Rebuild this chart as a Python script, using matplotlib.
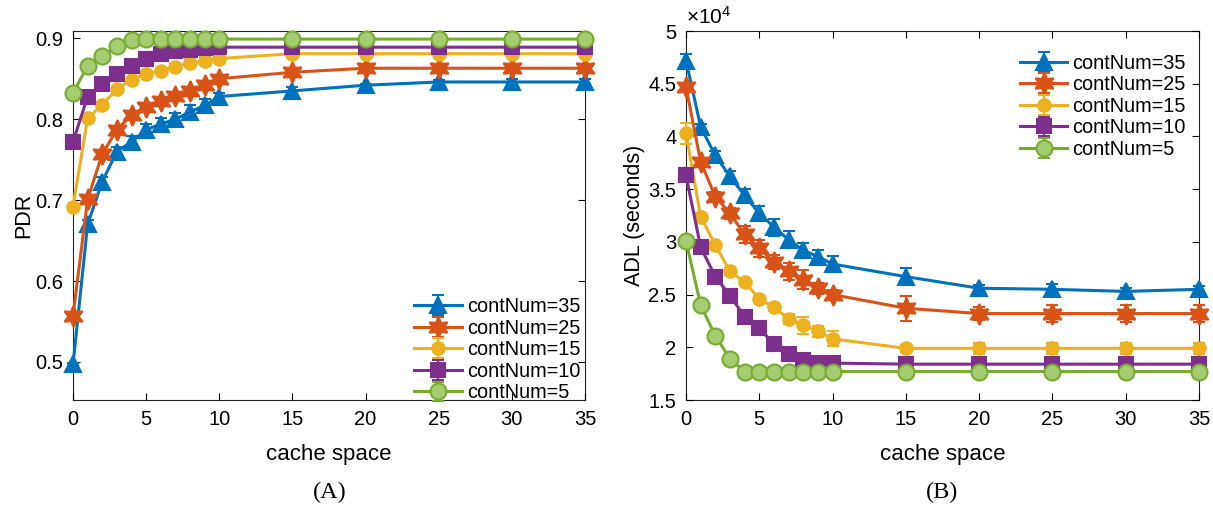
import numpy as np
import matplotlib.pyplot as plt
from matplotlib.ticker import FuncFormatter

plt.rcParams['font.family'] = ['Liberation Sans', 'DejaVu Sans']
plt.rcParams['mathtext.default'] = 'regular'

# cache space values
cache = [0, 1, 2, 3, 4, 5, 6, 7, 8, 9, 10, 15, 20, 25, 30, 35]
labels = ['contNum=35', 'contNum=25', 'contNum=15', 'contNum=10', 'contNum=5']

# (A) PDR
pdr_35 = [0.497, 0.670, 0.723, 0.760, 0.772, 0.787, 0.794, 0.800, 0.809, 0.817, 0.828, 0.835, 0.842, 0.846, 0.846, 0.846]
pdr_25 = [0.557, 0.701, 0.757, 0.787, 0.805, 0.815, 0.822, 0.829, 0.835, 0.842, 0.850, 0.858, 0.863, 0.863, 0.863, 0.863]
pdr_15 = [0.692, 0.801, 0.818, 0.837, 0.849, 0.856, 0.860, 0.865, 0.869, 0.872, 0.875, 0.881, 0.881, 0.881, 0.881, 0.881]
pdr_10 = [0.772, 0.828, 0.844, 0.856, 0.866, 0.875, 0.880, 0.884, 0.886, 0.888, 0.889, 0.889, 0.889, 0.889, 0.889, 0.889]
pdr_5 = [0.832, 0.866, 0.878, 0.890, 0.898, 0.899, 0.899, 0.899, 0.899, 0.899, 0.899, 0.899, 0.899, 0.899, 0.899, 0.899]
pdr_err_35 = [0.002, 0.006, 0.006, 0.006, 0.007, 0.007, 0.008, 0.008, 0.008, 0.008, 0.004, 0.005, 0.002, 0.002, 0.004, 0.004]
pdr_err_25 = [0.002, 0.004, 0.004, 0.005, 0.005, 0.005, 0.005, 0.005, 0.005, 0.005, 0.004, 0.005, 0.003, 0.003, 0.003, 0.003]
pdr_err_15 = [0.002, 0.002, 0.003, 0.003, 0.003, 0.003, 0.003, 0.004, 0.005, 0.005, 0.004, 0.004, 0.004, 0.004, 0.004, 0.004]
pdr_err_10 = [0.002] * 16
pdr_err_5 = [0.002] * 16

# (B) ADL in units of 1e4 seconds
adl_35 = [4.72, 4.09, 3.82, 3.62, 3.44, 3.27, 3.14, 3.02, 2.92, 2.86, 2.79, 2.67, 2.56, 2.55, 2.53, 2.55]
adl_25 = [4.47, 3.76, 3.43, 3.27, 3.07, 2.94, 2.81, 2.72, 2.64, 2.56, 2.50, 2.37, 2.32, 2.32, 2.32, 2.32]
adl_15 = [4.03, 3.24, 2.97, 2.72, 2.62, 2.46, 2.38, 2.27, 2.21, 2.15, 2.08, 1.99, 1.99, 1.99, 1.99, 1.99]
adl_10 = [3.63, 2.95, 2.67, 2.49, 2.29, 2.18, 2.03, 1.94, 1.88, 1.85, 1.85, 1.84, 1.84, 1.84, 1.84, 1.84]
adl_5 = [3.01, 2.40, 2.11, 1.89, 1.77, 1.77, 1.77, 1.77, 1.77, 1.77, 1.77, 1.77, 1.77, 1.77, 1.77, 1.77]
adl_err_35 = [0.06, 0.03, 0.04, 0.05, 0.06, 0.07, 0.08, 0.08, 0.07, 0.06, 0.08, 0.08, 0.03, 0.05, 0.03, 0.03]
adl_err_25 = [0.03, 0.04, 0.04, 0.05, 0.08, 0.08, 0.07, 0.08, 0.09, 0.05, 0.04, 0.12, 0.06, 0.08, 0.08, 0.08]
adl_err_15 = [0.10, 0.03, 0.03, 0.03, 0.03, 0.03, 0.03, 0.05, 0.08, 0.05, 0.07, 0.03, 0.05, 0.05, 0.05, 0.05]
adl_err_10 = [0.03] * 16
adl_err_5 = [0.02] * 16

colors = ['#0072BD', '#D95319', '#EDB120', '#7E2F8E', '#77AC30']
markers = ['^', (6, 1, 0), 'o', 's', 'o']
msizes = [11.5, 15, 9, 10, 11.5]
faces = ['#0072BD', '#D95319', '#EDB120', '#7E2F8E', '#a6cc72']

fig = plt.figure(figsize=(12.13, 5.08), dpi=100)
axA = fig.add_axes([73 / 1213, 1 - 400 / 508, (585 - 73) / 1213, 369 / 508])
axB = fig.add_axes([686 / 1213, 1 - 400 / 508, (1199 - 686) / 1213, 369 / 508])

pdr = [pdr_35, pdr_25, pdr_15, pdr_10, pdr_5]
pdr_err = [pdr_err_35, pdr_err_25, pdr_err_15, pdr_err_10, pdr_err_5]
adl = [adl_35, adl_25, adl_15, adl_10, adl_5]
adl_err = [adl_err_35, adl_err_25, adl_err_15, adl_err_10, adl_err_5]


def draw(ax, y, yerr, i):
    c = ax.errorbar(cache, y, yerr=yerr, color=colors[i], marker=markers[i],
                    ms=msizes[i], mfc=faces[i], mec=colors[i], mew=1.5, lw=2.2,
                    elinewidth=1.5, capsize=4, capthick=1.5, label=labels[i])
    for a in c.get_children():
        a.set_clip_on(False)


for i in range(5):
    draw(axA, pdr[i], pdr_err[i], i)
    draw(axB, np.array(adl[i]) * 1e4, np.array(adl_err[i]) * 1e4, i)

for ax in (axA, axB):
    ax.set_xlim(0, 35)
    ax.set_xticks(range(0, 36, 5))
    ax.tick_params(direction='in', top=True, right=True, labelsize=14.5,
                   length=5, width=0.8, pad=7)
    ax.set_xlabel('cache space', fontsize=16, labelpad=11)
    for s in ax.spines.values():
        s.set_linewidth(0.8)
        s.set_color('#262626')
        s.set_zorder(0.5)

axA.set_ylim(0.453, 0.909)
axA.set_yticks([0.5, 0.6, 0.7, 0.8, 0.9])
axA.set_ylabel('PDR', fontsize=15.5, labelpad=1)
axA.legend(loc='lower right', bbox_to_anchor=(0.995, -0.012), frameon=False,
           fontsize=14.3, handlelength=2.4, labelspacing=0.13,
           handletextpad=0.25, borderaxespad=0.0, borderpad=0.1)

axB.set_ylim(1.5e4, 5e4)
axB.set_yticks(np.arange(1.5e4, 5.01e4, 0.5e4))
axB.yaxis.set_major_formatter(FuncFormatter(lambda v, p: '%g' % (v / 1e4)))
axB.text(0.0, 1.01, r'$\times10^{4}$', transform=axB.transAxes, fontsize=15,
         ha='left', va='bottom')
axB.set_ylabel('ADL (seconds)', fontsize=15.5, labelpad=2)
axB.legend(loc='upper right', bbox_to_anchor=(0.978, 0.944), frameon=False,
           fontsize=14.3, handlelength=2.4, labelspacing=0.13,
           handletextpad=0.25, borderaxespad=0.0, borderpad=0.1)

fig.text(330 / 1213, 1 - 492 / 508, '(A)', ha='center', va='center', fontsize=17.5,
         family=['Liberation Serif', 'DejaVu Serif'])
fig.text(942 / 1213, 1 - 492 / 508, '(B)', ha='center', va='center', fontsize=17.5,
         family=['Liberation Serif', 'DejaVu Serif'])

fig.savefig('out.png', dpi=100)
